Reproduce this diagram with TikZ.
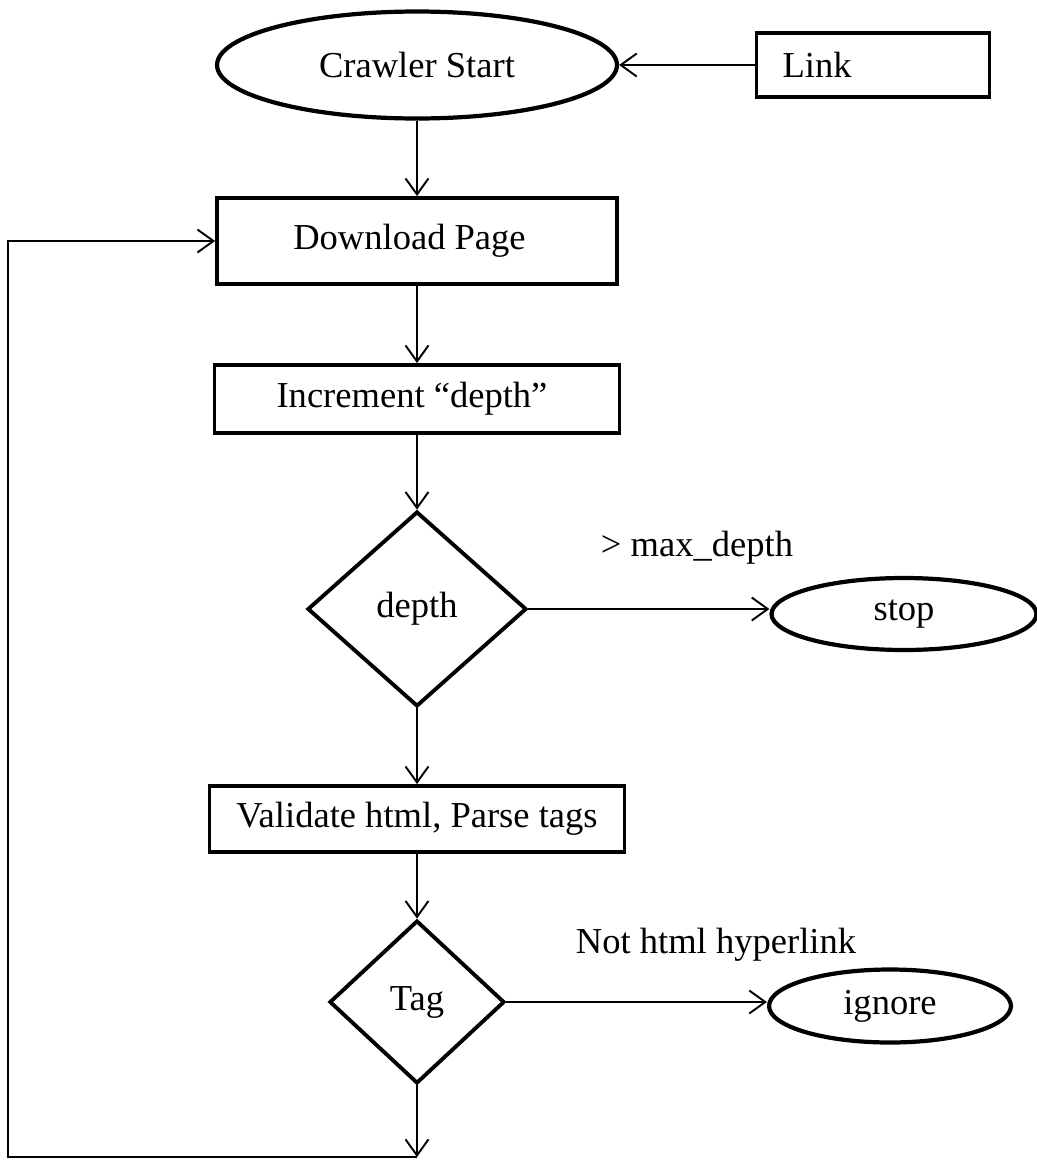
\documentclass[tikz,border=0pt]{standalone}
\usepackage{fontspec}
\setmainfont{Liberation Serif}
\usetikzlibrary{shapes.geometric,arrows.meta}
\begin{document}
\begin{tikzpicture}[x=0.02cm,y=-0.02cm,font=\fontsize{20.8}{25}\selectfont,
  process/.style = {draw = black, line width = 2.2pt, rectangle, inner sep = 0pt},
  terminal/.style = {draw = black, line width = 2.4pt, ellipse, inner sep = 0pt},
  decision/.style = {draw = black, line width = 2.2pt, diamond, inner sep = 0pt},
  flow/.style = {line width = 1.1pt, -{Straight Barb[length=0.32cm,width=0.46cm,line width=1.1pt]}},
  cond/.style = {inner sep = 0pt}]
\useasboundingbox (0,0) rectangle (1037,1160);
\pgfmathsetmacro\midx{417};
\node[terminal, minimum width = 8.0cm, minimum height = 2.14cm] (start) at (\midx,65) {Crawler Start};
\node[process, minimum height = 1.28cm, inner xsep = 0.52cm, text width = 3.62cm, align = left] (link) at (873,65) {Link};
\node[process, minimum width = 8.0cm, minimum height = 1.72cm] (download) at (\midx,241) {\hspace*{-0.3cm}Download Page};
\node[process, minimum width = 8.1cm, minimum height = 1.36cm] (incr) at (\midx,399) {\hspace*{-0.2cm}Increment ``depth''};
\node[decision, minimum width = 4.38cm, minimum height = 3.9cm] (depthq) at (\midx,609) {depth};
\node[terminal, minimum width = 5.3cm, minimum height = 1.44cm] (stop) at (904,614) {stop};
\node[cond] (maxd) at (697,548) {> max\_depth};
\node[process, minimum width = 8.3cm, minimum height = 1.32cm] (valid) at (\midx,819) {Validate html, Parse tags};
\node[decision, minimum width = 3.5cm, minimum height = 3.26cm] (tagq) at (\midx,1002) {Tag};
\node[terminal, minimum width = 4.84cm, minimum height = 1.46cm] (ignore) at (890,1006) {ignore};
\node[cond] (nolink) at (716,945) {Not html hyperlink};
\coordinate (loopend) at (\midx,1157);
\coordinate (loopcorner) at (8,1157);
\draw[flow] (link) -- (start);
\draw[flow] (start) -- (download);
\draw[flow] (download) -- (incr);
\draw[flow] (incr) -- (depthq);
\draw[flow] (depthq.east) -- (depthq.east -| stop.west);
\draw[flow] (depthq) -- (valid);
\draw[flow] (valid) -- (tagq);
\draw[flow] (tagq.east) -- (tagq.east -| ignore.west);
\draw[flow] (tagq) -- (loopend);
\draw[flow] (loopend) -- (loopcorner) |- (download);
\end{tikzpicture}
\end{document}
